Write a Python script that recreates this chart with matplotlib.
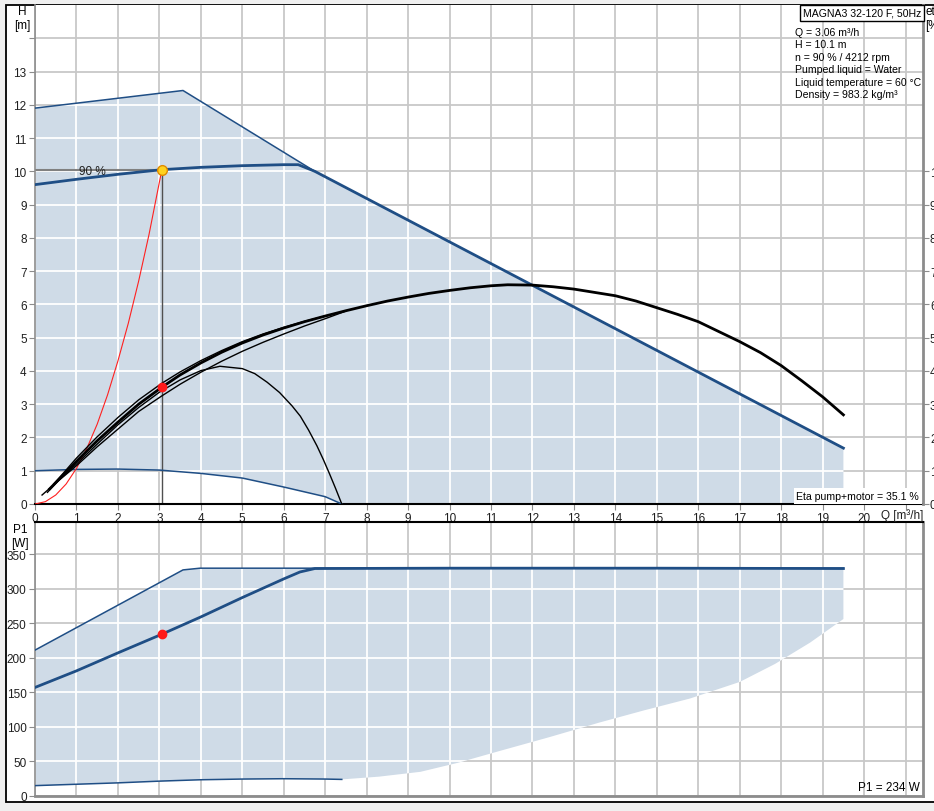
import matplotlib
matplotlib.use('Agg')
import matplotlib.pyplot as plt
from matplotlib.patches import Rectangle

# duty point
q_duty = 3.06
h_duty = 10.05
eta_duty = 35.1
p1_duty = 234

# H(Q) curves [m]
env_q = [0, 3.57, 6.75, 19.5]
env_h = [11.9, 12.43, 10.0, 1.68]
min_q = [0, 1, 2, 3, 4, 5, 6, 7, 7.4]
min_h = [1.0, 1.04, 1.05, 1.02, 0.92, 0.78, 0.51, 0.22, 0.0]
h90_q = [0, 1, 2, 3.06, 4, 5, 6, 6.35, 6.75, 19.5]
h90_h = [9.6, 9.76, 9.91, 10.05, 10.12, 10.17, 10.2, 10.2, 10.0, 1.68]
sys_q = [0, 0.25, 0.5, 0.75, 1, 1.25, 1.5, 1.75, 2, 2.25, 2.5, 2.75, 3.06]
sys_h = [0, 0.07, 0.27, 0.6, 1.07, 1.67, 2.4, 3.28, 4.3, 5.43, 6.7, 8.1, 10.05]

# efficiency curves [%]
eta90_q = [0.35, 1, 1.5, 2, 2.5, 3.06, 3.5, 4, 4.5, 5, 5.5, 6, 6.5, 7, 7.5, 8,
           8.5, 9, 9.5, 10, 10.5, 11, 11.4, 12, 12.5, 13, 13.5, 14, 14.5, 15,
           15.5, 16, 16.5, 17, 17.5, 18, 18.5, 19, 19.5]
eta90 = [4.5, 12.8, 19, 24.6, 30, 35.1, 38.8, 42.4, 45.6, 48.4, 50.8, 52.9,
         54.8, 56.5, 58.1, 59.6, 61, 62.2, 63.3, 64.2, 65, 65.6, 65.9, 65.8,
         65.3, 64.6, 63.6, 62.6, 61, 59, 57, 54.8, 51.8, 48.8, 45.5, 41.6, 37,
         32.2, 26.8]
etamax_q = [0.45, 0.7, 1, 1.5, 2, 2.5, 3.06, 3.5, 4, 4.5, 5, 5.5, 6, 6.5, 7]
etamax = [6, 9.5, 13.8, 20.2, 26, 31.3, 36.3, 39.7, 43.1, 46.1, 48.8, 51.1,
          53.1, 54.9, 56.5]
etalow_q = [0.17, 0.5, 1, 1.5, 2, 2.5, 3.06, 3.5, 4, 4.5, 5, 5.5, 6, 6.5, 7, 7.5]
etalow = [2.7, 6.3, 11.5, 17.2, 22.5, 27.8, 32.5, 36, 39.6, 42.9, 45.9, 48.6,
          51.1, 53.5, 55.7, 58.0]
etamin_q = [0.3, 0.6, 1, 1.5, 2, 2.5, 3, 3.5, 4, 4.46, 5, 5.3, 5.6, 5.9, 6.2,
            6.4, 6.6, 6.8, 6.95, 7.1, 7.25, 7.4]
etamin = [3.5, 7.5, 12, 18, 23.8, 29, 33.6, 37.3, 40.1, 41.4, 40.7, 39.2,
          36.6, 33.5, 29.5, 26.4, 22.2, 17.5, 13.5, 9.2, 4.7, 0]

# P1(Q) curves [W]
p_env_q = [0, 3.57, 3.98, 19.5, 19.5, 18.7, 17.85, 17.0, 15.8, 14.7, 13.6, 12.4,
           11.2, 10.2, 9.3, 8.3, 7.4]
p_env = [211, 327, 329.5, 329.5, 256, 222, 191, 165, 141, 124, 106, 85,
         65, 48, 35, 28, 24]
p_top_q = [0, 3.57, 3.98, 19.5]
p_top = [211, 327, 329.5, 329.5]
pmin_q = [0, 1, 2, 3, 4, 5, 6, 7, 7.4]
pmin = [15, 17, 19, 21.5, 23.5, 24.5, 25, 24.5, 24]
p90_q = [0, 1, 2, 3.06, 4, 5, 6, 6.39, 6.75, 10, 15, 19.5]
p90 = [157, 181, 207, 234, 259, 287, 314, 324, 329, 329.5, 329.5, 329]

h_ticks = list(range(0, 14))
eta_ticks = list(range(0, 101, 10))
p_ticks = list(range(0, 351, 50))
q_ticks = list(range(0, 21))

info_lines = ['Q = 3.06 m³/h', 'H = 10.1 m', 'n = 90 % / 4212 rpm',
              'Pumped liquid = Water', 'Liquid temperature = 60 °C',
              'Density = 983.2 kg/m³']

W, H = 934, 812
BLUE = '#1f4e85'
FILL = '#cfdbe7'
GRID = '#c8c8c8'
SPINE = '#8c8c8c'

plt.rcParams['font.family'] = ['Liberation Sans', 'DejaVu Sans']
plt.rcParams['font.size'] = 8

fig = plt.figure(figsize=(W / 100, H / 100), dpi=100, facecolor='#f0f0f0')


def fx(px):
    return px / W


def fy(py):
    return 1 - py / H


fig.add_artist(Rectangle((fx(6), fy(803)), fx(940) - fx(6), fy(6) - fy(803),
                         transform=fig.transFigure, fc='white', ec='black',
                         lw=1.3, zorder=-5))

ax = fig.add_axes([fx(35), fy(505), fx(923) - fx(35), fy(6) - fy(505)])
ax2 = fig.add_axes([fx(35), fy(797), fx(923) - fx(35), fy(523) - fy(797)])


def white_grid(a, poly, xs, ys):
    for x in xs:
        ln = a.axvline(x, color='white', lw=1.3, zorder=1.5)
        ln.set_clip_path(poly)
    for y in ys:
        ln = a.axhline(y, color='white', lw=1.3, zorder=1.5)
        ln.set_clip_path(poly)


# ---- top panel: H(Q)
ax.set_xlim(0, 21.42)
ax.set_ylim(0, 15)
ax.set_xticks(range(0, 22))
ax.set_yticks(range(0, 15))
ax.set_axisbelow(True)
ax.grid(True, color=GRID, lw=1.3)
ax.set_xticklabels([str(q) if q in q_ticks else '' for q in range(0, 22)])
ax.set_yticklabels([str(h) if h in h_ticks else '' for h in range(0, 15)])

poly_q = env_q + [19.5] + min_q[::-1]
poly_h = env_h + [0] + min_h[::-1]
poly = ax.fill(poly_q, poly_h, color=FILL, lw=0, zorder=1)[0]
white_grid(ax, poly, range(0, 22), range(0, 15))

ax.plot(env_q[:3], env_h[:3], color=BLUE, lw=1.1, zorder=3)
ax.plot(min_q, min_h, color=BLUE, lw=1.1, zorder=3)
ax.plot(h90_q, h90_h, color=BLUE, lw=2.0, zorder=3)
ax.plot([0, q_duty], [h_duty, h_duty], color='#808080', lw=1.5, zorder=2.5)
ax.plot([q_duty, q_duty], [0, h_duty], color='#505050', lw=1.0, zorder=2.5)
ax.plot(sys_q, sys_h, color='#ff2020', lw=0.8, zorder=3)
ax.plot([q_duty], [h_duty], 'o', ms=7, mfc='#ffd21e', mec='#e08a00', mew=1, zorder=6)
ax.text(1.38, 10.0, '90 %', ha='center', va='center', fontsize=8.5, color='#202020',
        zorder=4)

ax.tick_params(axis='both', direction='out', length=4, color=SPINE,
               labelcolor='#202020', labelsize=8.5, pad=2)
ax.spines['top'].set_visible(False)
ax.spines['right'].set_visible(False)
ax.spines['left'].set_color(SPINE)
ax.spines['left'].set_linewidth(1.2)
ax.spines['bottom'].set_color('black')
ax.spines['bottom'].set_linewidth(1.5)

# efficiency on twin axis
axe = ax.twinx()
axe.set_ylim(0, 150)
axe.set_yticks(eta_ticks)
axe.tick_params(axis='y', direction='out', length=4, color=SPINE,
                labelcolor='#202020', labelsize=8.5, pad=1)
for s in ['left', 'top', 'bottom']:
    axe.spines[s].set_visible(False)
axe.spines['right'].set_color(SPINE)
axe.spines['right'].set_linewidth(2)
axe.plot(etamin_q, etamin, color='black', lw=1.0, zorder=3)
axe.plot(etalow_q, etalow, color='black', lw=1.0, zorder=3)
axe.plot(etamax_q, etamax, color='black', lw=1.0, zorder=3)
axe.plot(eta90_q, eta90, color='black', lw=2.0, zorder=4)
axe.plot([q_duty], [eta_duty], 'o', ms=6, color='#ff1a1a', zorder=6)

fig.text(fx(902), fy(516), 'Q [m³/h]', ha='center', va='center', color='#202020',
         fontsize=8.5)
fig.text(fx(22), fy(19), 'H\n[m]', ha='center', va='center', linespacing=1.25,
         fontsize=8.5)
fig.text(fx(925), fy(19), 'eta\n[%]', ha='left', va='center', linespacing=1.25,
         fontsize=8.5)
fig.text(fx(919), fy(497), 'Eta pump+motor = 35.1 %', ha='right', va='center',
         fontsize=7.6,
         bbox=dict(boxstyle='square,pad=0.25', fc='white', ec='none'), zorder=10)

fig.text(fx(862), fy(14), 'MAGNA3 32-120 F, 50Hz', ha='center', va='center',
         fontsize=7.6,
         bbox=dict(boxstyle='square,pad=0.3', fc='white', ec='black', lw=1), zorder=10)
for i, line in enumerate(info_lines):
    fig.text(fx(795), fy(33 + i * 12.4), line, ha='left', va='center',
             fontsize=7.6, zorder=10)

# ---- bottom panel: P1(Q)
ax2.set_xlim(0, 21.42)
ax2.set_ylim(0, 396.3)
ax2.set_xticks(range(0, 22))
ax2.set_yticks(p_ticks)
ax2.set_axisbelow(True)
ax2.grid(True, color=GRID, lw=1.3)
ax2.set_xticklabels([])
ax2.tick_params(axis='x', length=0)
ax2.tick_params(axis='y', direction='out', length=4, color=SPINE,
                labelcolor='#202020', labelsize=8.5, pad=2)

ppoly_q = p_env_q + pmin_q[::-1]
ppoly = p_env + pmin[::-1]
poly2 = ax2.fill(ppoly_q, ppoly, color=FILL, lw=0, zorder=1)[0]
white_grid(ax2, poly2, range(0, 22), p_ticks)

ax2.plot(p_top_q, p_top, color=BLUE, lw=1.1, zorder=3)
ax2.plot(pmin_q, pmin, color=BLUE, lw=1.1, zorder=3)
ax2.plot(p90_q, p90, color=BLUE, lw=2.0, zorder=4)
ax2.plot([q_duty], [p1_duty], 'o', ms=6, color='#ff1a1a', zorder=6)

ax2.spines['top'].set_color('black')
ax2.spines['top'].set_linewidth(1.5)
for s in ['left', 'right', 'bottom']:
    ax2.spines[s].set_color(SPINE)
ax2.spines['right'].set_linewidth(2)
ax2.spines['bottom'].set_linewidth(2)
ax2.spines['left'].set_linewidth(1.2)

fig.text(fx(20), fy(537), 'P1\n[W]', ha='center', va='center', linespacing=1.25,
         fontsize=8.5)
fig.text(fx(920), fy(788), 'P1 = 234 W', ha='right', va='center', fontsize=8.5)

fig.savefig('out.png', dpi=100, facecolor=fig.get_facecolor())
